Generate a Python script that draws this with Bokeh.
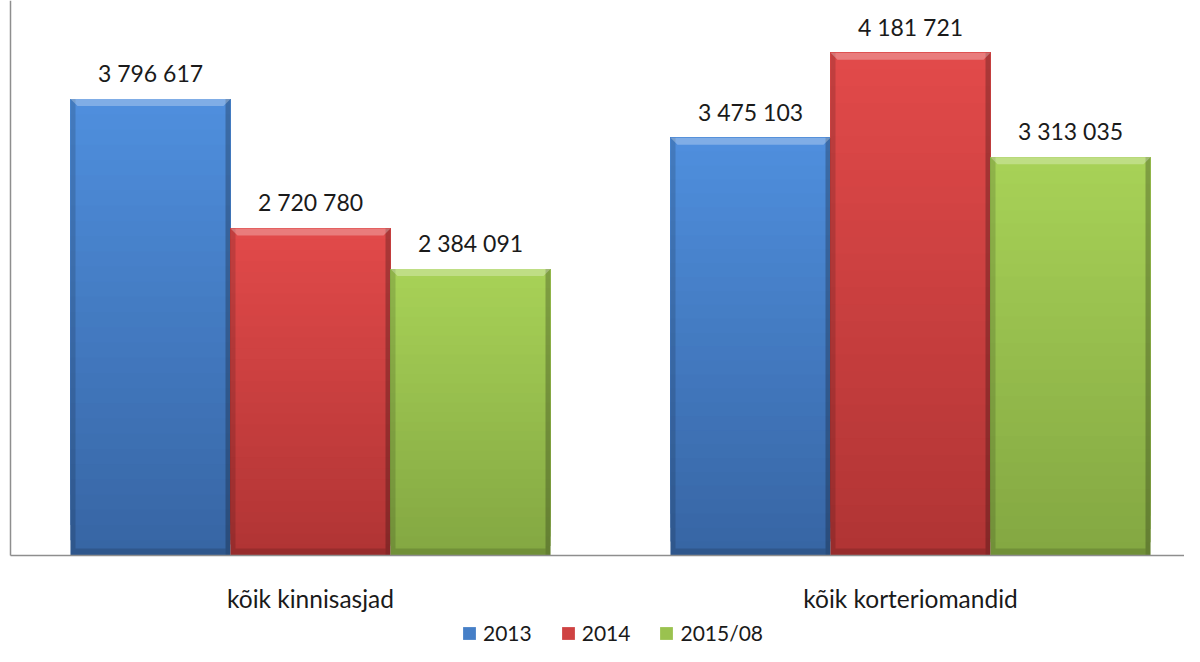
import numpy as np
from bokeh.plotting import figure
from bokeh.models import Range1d, Legend, LegendItem, ColumnDataSource
from bokeh.core.properties import value
from bokeh.embed import file_html
from bokeh.resources import INLINE

# ---------------- data ----------------
categories = ["kõik kinnisasjad", "kõik korteriomandid"]
series = ["2013", "2014", "2015/08"]
values_2013 = [3796617, 3475103]
values_2014 = [2720780, 4181721]
values_2015 = [2384091, 3313035]
series_values = [values_2013, values_2014, values_2015]

# colours (top of gradient, bottom of gradient)
col_top = ["#4f8fde", "#e24a4a", "#a8d257"]
col_bot = ["#3765a3", "#b03434", "#83a742"]

# ---------------- layout ----------------
W, H = 1184, 646
Y_AXIS_PX = 555      # screen row of the value axis baseline (from top)
Y_TOP_PX = 14        # screen row of axis maximum
X_AXIS_PX = 10       # screen column of the value axis
YMAX = 4.5e6
uy = YMAX / (Y_AXIS_PX - Y_TOP_PX)       # data units per pixel (y)
ux = 1.0 / 600.0                          # data units per pixel (x)
x_start = -X_AXIS_PX * ux
x_end = x_start + W * ux
y_end = YMAX + Y_TOP_PX * uy
y_start = -(H - Y_AXIS_PX) * uy
bw = 0.8 / 3            # bar width in category units

p = figure(width=W, height=H, output_backend="svg", toolbar_location=None,
           x_range=Range1d(x_start, x_end), y_range=Range1d(y_start, y_end),
           min_border=0)
p.outline_line_color = None
p.xgrid.visible = False
p.ygrid.visible = False
p.xaxis.visible = False
p.yaxis.visible = False
p.background_fill_color = "white"
p.border_fill_color = "white"


def hex2rgb(h):
    h = h.lstrip("#")
    return np.array([int(h[i:i + 2], 16) for i in (0, 2, 4)], dtype=float)


def rgb2hex(c):
    c = np.clip(np.round(c), 0, 255).astype(int)
    return "#%02x%02x%02x" % tuple(c)


N = 30
band = dict(left=[], right=[], bottom=[], top=[], color=[])
shade = dict(left=[], right=[], bottom=[], top=[], alpha=[], color=[])
bevel_xs, bevel_ys = [], []
lab = dict(x=[], y=[], text=[])
legend_index = []

for s, vals in enumerate(series_values):
    ct, cb = hex2rgb(col_top[s]), hex2rgb(col_bot[s])
    for c, v in enumerate(vals):
        xc = c + 0.5 + (s - 1) * bw
        l, r = xc - bw / 2, xc + bw / 2
        for i in range(N):
            f0 = i / N
            t = (i + 0.5) / N
            if c == 0 and i == int(N * 0.6):
                legend_index.append(len(band["left"]))
            band["left"].append(l)
            band["right"].append(r)
            band["bottom"].append(v * f0)
            band["top"].append(v)
            band["color"].append(rgb2hex(cb + (ct - cb) * t))
        # darker side edges and bottom
        e = 5 * ux
        for (a, b, al) in [(l, l + e, 0.14), (r - e, r, 0.24)]:
            shade["left"].append(a); shade["right"].append(b)
            shade["bottom"].append(0); shade["top"].append(v)
            shade["alpha"].append(al); shade["color"].append("black")
        shade["left"].append(l + e); shade["right"].append(r - e)
        shade["bottom"].append(0); shade["top"].append(7 * uy)
        shade["alpha"].append(0.14); shade["color"].append("black")
        # lighter top bevel
        d = 7
        bevel_xs.append([l, r, r - d * ux, l + d * ux])
        bevel_ys.append([v, v, v - d * uy, v - d * uy])
        lab["x"].append(xc)
        lab["y"].append(v)
        lab["text"].append(f"{v:,}".replace(",", " "))

bars = p.quad(left="left", right="right", bottom="bottom", top="top",
              fill_color="color", line_color=None, source=ColumnDataSource(band))
p.quad(left="left", right="right", bottom="bottom", top="top",
       fill_color="color", fill_alpha="alpha", line_color=None,
       source=ColumnDataSource(shade))
p.patches(xs=bevel_xs, ys=bevel_ys, fill_color="white", fill_alpha=0.28,
          line_color=None)

p.text(x="x", y="y", text="text", source=ColumnDataSource(lab),
       text_align="center", text_baseline="alphabetic", y_offset=-26,
       text_font=value("Lato"), text_font_size="23px", text_color="#1a1a1a")

# axis lines (value axis and category axis)
p.segment(x0=[0], y0=[0], x1=[0], y1=[y_end], line_color="#8e8e8e",
          line_width=1.5)
p.segment(x0=[0], y0=[0], x1=[x_end], y1=[0], line_color="#8e8e8e",
          line_width=1.5)

# category labels
cat_x = [i + 0.5 for i in range(len(categories))]
p.text(x=cat_x, y=[0] * len(categories), text=categories,
       text_align="center", text_baseline="middle", y_offset=43,
       text_font=value("Lato"), text_font_size="24.5px", text_color="#1a1a1a")

# legend
items = [LegendItem(label=name, renderers=[bars], index=legend_index[s])
         for s, name in enumerate(series)]

legend = Legend(items=items, orientation="horizontal", location=(461, 1),
                glyph_width=16, glyph_height=16, label_standoff=6, spacing=28,
                padding=0, margin=0, border_line_color=None,
                background_fill_alpha=0, label_text_font="Lato",
                label_text_font_size="21px", label_text_color="#1a1a1a")
p.add_layout(legend, "center")

open("out.html", "w").write(file_html(p, INLINE))
